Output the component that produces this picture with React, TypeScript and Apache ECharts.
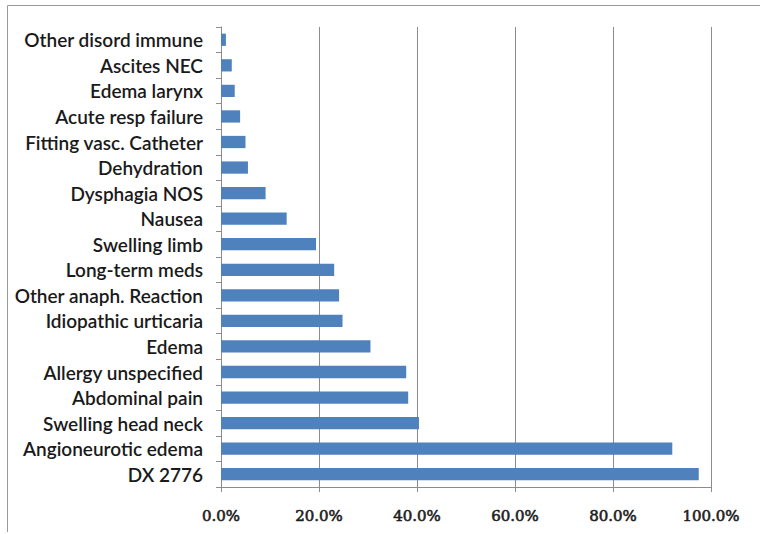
import React, { useEffect, useRef } from "react";
import * as echarts from "echarts";

// top-to-bottom order as shown in the chart
const categories: string[] = [
  "Other disord immune",
  "Ascites NEC",
  "Edema larynx",
  "Acute resp failure",
  "Fitting vasc. Catheter",
  "Dehydration",
  "Dysphagia NOS",
  "Nausea",
  "Swelling limb",
  "Long-term meds",
  "Other anaph. Reaction",
  "Idiopathic urticaria",
  "Edema",
  "Allergy unspecified",
  "Abdominal pain",
  "Swelling head neck",
  "Angioneurotic edema",
  "DX 2776",
];

const values: number[] = [
  1.0, 2.2, 2.8, 3.9, 5.0, 5.5, 9.1, 13.4, 19.4,
  23.1, 24.1, 24.8, 30.5, 37.8, 38.2, 40.4, 92.1, 97.5,
];

const xMax = 100;
const xStep = 20;

export default function App() {
  const ref = useRef<HTMLDivElement>(null);
  useEffect(() => {
    if (!ref.current) return;
    const chart = echarts.init(ref.current, undefined, { renderer: "svg" });
    const font = "Lato, 'Open Sans', sans-serif";
    chart.setOption({
      animation: false,
      backgroundColor: "#ffffff",
      grid: { left: 221, right: 49, top: 27, bottom: 47, containLabel: false },
      graphic: [
        {
          type: "polyline",
          shape: { points: [[7.5, 532], [7.5, 5.5], [760, 5.5]] },
          style: { stroke: "#9a9a9a", lineWidth: 1, fill: "none" },
          silent: true,
        },
      ],
      xAxis: {
        type: "value",
        min: 0,
        max: xMax,
        interval: xStep,
        axisLine: { show: true, lineStyle: { color: "#8c8c8c", width: 1 } },
        axisTick: { show: true, length: 5, lineStyle: { color: "#8c8c8c" } },
        splitLine: { show: true, lineStyle: { color: "#8c8c8c", width: 1 } },
        axisLabel: {
          margin: 21,
          color: "#1e1e1e",
          fontFamily: "'DejaVu Serif', 'Liberation Serif', serif",
          fontWeight: "normal",
          fontSize: 15,
          textBorderColor: "#1e1e1e",
          textBorderWidth: 0.6,
          formatter: (v: number) => v.toFixed(1) + "%",
        },
      },
      yAxis: {
        type: "category",
        data: categories,
        inverse: true,
        axisLine: { show: true, lineStyle: { color: "#8c8c8c", width: 1 } },
        axisTick: { show: true, length: 5, inside: false, lineStyle: { color: "#8c8c8c" } },
        axisLabel: {
          margin: 18,
          color: "#1a1a1a",
          fontFamily: font,
          fontWeight: 600,
          fontSize: 19,
        },
      },
      series: [
        {
          type: "bar",
          data: values,
          barCategoryGap: "52%",
          itemStyle: { color: "#4f81bd" },
        },
      ],
    });
    return () => chart.dispose();
  }, []);
  return (
    <div
      ref={ref}
      style={{ position: "fixed", left: 0, top: 0, width: 760, height: 534, background: "#fff" }}
    />
  );
}
